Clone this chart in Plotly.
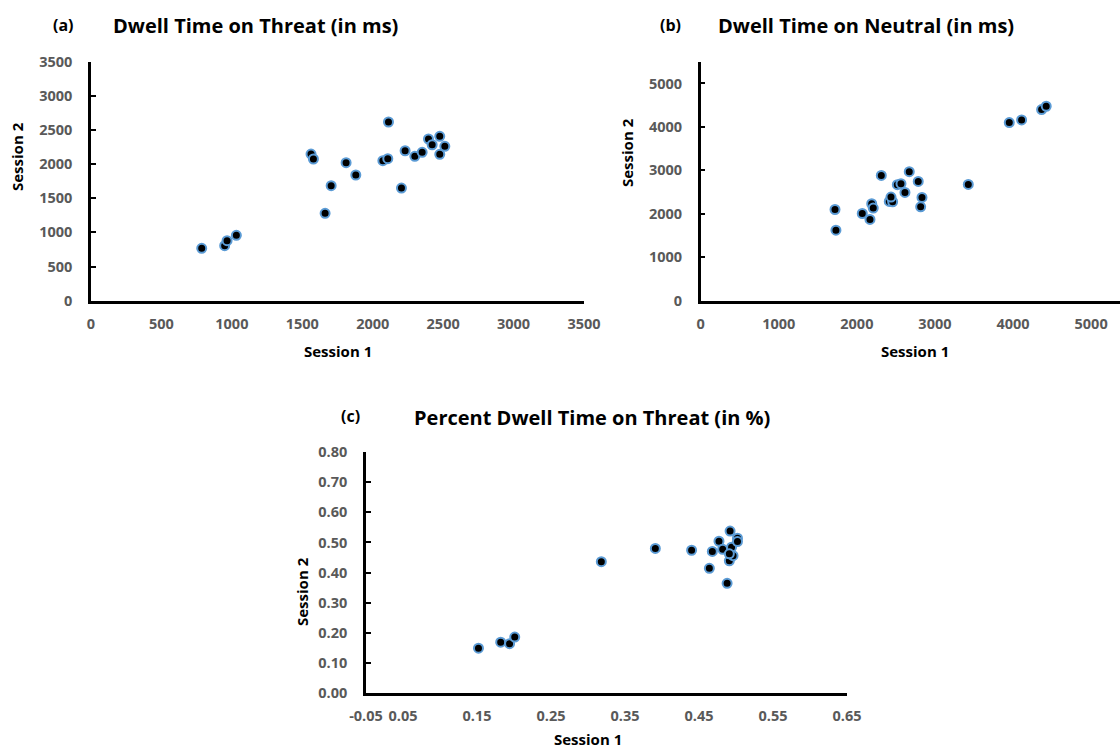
import plotly.graph_objects as go

W, H = 1120, 748

# ---- data ----
threat_s1 = [786, 949, 966, 1032, 1562, 1579, 1662, 1705, 1811, 1880, 2072,
             2107, 2112, 2204, 2230, 2299, 2351, 2396, 2422, 2476, 2476, 2512]
threat_s2 = [767, 805, 879, 957, 2148, 2075, 1280, 1684, 2021, 1841, 2050,
             2079, 2617, 1650, 2196, 2114, 2173, 2368, 2284, 2407, 2144, 2261]

neutral_s1 = [1720, 1732, 2069, 2168, 2190, 2210, 2313, 2415, 2458, 2437, 2518,
              2565, 2616, 2671, 2786, 2834, 2817, 3427, 3952, 4110, 4366, 4425]
neutral_s2 = [2099, 1623, 2007, 1869, 2231, 2131, 2884, 2284, 2277, 2385, 2669,
              2692, 2491, 2969, 2745, 2376, 2161, 2676, 4099, 4161, 4399, 4475]

pct_s1 = [0.152, 0.182, 0.194, 0.201, 0.318, 0.391, 0.440, 0.464, 0.468, 0.477,
          0.482, 0.488, 0.491, 0.492, 0.494, 0.496, 0.491, 0.502, 0.502]
pct_s2 = [0.148, 0.168, 0.163, 0.185, 0.436, 0.480, 0.474, 0.414, 0.470, 0.504,
          0.477, 0.364, 0.439, 0.538, 0.484, 0.456, 0.462, 0.514, 0.503]

ticks_a = [0, 500, 1000, 1500, 2000, 2500, 3000, 3500]
ticks_b = [0, 1000, 2000, 3000, 4000, 5000]
ticks_c_y = [0.0, 0.1, 0.2, 0.3, 0.4, 0.5, 0.6, 0.7, 0.8]
ticks_c_x = [0.0, 0.05, 0.15, 0.25, 0.35, 0.45, 0.55, 0.65]
ticks_c_x_text = ["-0.05", "0.05", "0.15", "0.25", "0.35", "0.45", "0.55", "0.65"]

titles = ["Dwell Time on Threat (in ms)", "Dwell Time on Neutral (in ms)",
          "Percent Dwell Time on Threat (in %)"]
panel_tags = ["(a)", "(b)", "(c)"]

FONT = "Open Sans"
TICKCOL = "#595959"

marker = dict(size=9, color="black", line=dict(width=2, color="#5B9BD5"))

fig = go.Figure()
fig.add_trace(go.Scatter(x=threat_s1, y=threat_s2, mode="markers", marker=marker,
                         xaxis="x", yaxis="y", showlegend=False))
fig.add_trace(go.Scatter(x=neutral_s1, y=neutral_s2, mode="markers", marker=marker,
                         xaxis="x2", yaxis="y2", showlegend=False))
fig.add_trace(go.Scatter(x=pct_s1, y=pct_s2, mode="markers", marker=marker,
                         xaxis="x3", yaxis="y3", showlegend=False))

def px(v):
    return v / W

def py(v):
    return 1 - v / H

tickfont = dict(family=FONT, size=14.5, color=TICKCOL, weight="bold")

def xax(dom, rng, tv, anchor, tt=None, fmt=None):
    d = dict(domain=dom, range=rng, tickvals=tv, showline=True, linewidth=2.5,
             linecolor="black", showgrid=False, zeroline=False, ticks="",
             tickfont=tickfont, ticklabelstandoff=8, fixedrange=True,
             automargin=False, anchor=anchor)
    if tt is not None:
        d["ticktext"] = tt
    if fmt:
        d["tickformat"] = fmt
    return d

def yax(dom, rng, tv, anchor, fmt=None):
    d = dict(domain=dom, range=rng, tickvals=tv, showline=True, linewidth=2.5,
             linecolor="black", showgrid=False, zeroline=False, ticks="inside",
             ticklen=5, tickwidth=2, tickcolor="black", anchor=anchor,
             tickfont=tickfont, ticklabelstandoff=13, fixedrange=True,
             automargin=False)
    if fmt:
        d["tickformat"] = fmt
    return d

ydom_top = [py(300.7), py(61.7)]
ydom_c = [py(692.7), py(452.3)]

fig.update_layout(
    width=W, height=H,
    margin=dict(l=0, r=0, t=0, b=0, autoexpand=False),
    paper_bgcolor="white", plot_bgcolor="white",
    xaxis=xax([px(91), px(584)], [0, 3500], ticks_a, "y"),
    yaxis=yax(ydom_top, [0, 3500], ticks_a, "x"),
    xaxis2=xax([px(700.7), 1.0], [0, 5370], ticks_b, "y2"),
    yaxis2=yax(ydom_top, [0, 5500], ticks_b, "x2"),
    xaxis3=xax([px(366), px(847)], [0, 0.65], ticks_c_x, "y3", ticks_c_x_text),
    yaxis3=yax(ydom_c, [0, 0.8], ticks_c_y, "x3", ".2f"),
)

ann = []
def add_text(text, x, y, size, color="black", angle=0):
    ann.append(dict(text=text, x=px(x), y=py(y), xref="paper", yref="paper",
                    showarrow=False, textangle=angle, xanchor="center", yanchor="middle",
                    font=dict(family=FONT, size=size, color=color, weight="bold")))

add_text(panel_tags[0], 63, 25, 16)
add_text(titles[0], 255, 25, 20)
add_text(panel_tags[1], 670, 25, 16)
add_text(titles[1], 866, 25, 20)
add_text(panel_tags[2], 350, 416, 16)
add_text(titles[2], 592, 417, 20)

add_text("Session 1", 338, 351, 15)
add_text("Session 1", 915, 351, 15)
add_text("Session 1", 588, 739, 15)
add_text("Session 2", 17, 157, 15, angle=-90)
add_text("Session 2", 627, 153, 15, angle=-90)
add_text("Session 2", 302, 592, 15, angle=-90)

fig.update_layout(annotations=ann)

fig.write_html("out.html", config={"displayModeBar": False},
               post_script="document.body.style.margin='0px';document.body.style.overflow='hidden';")
